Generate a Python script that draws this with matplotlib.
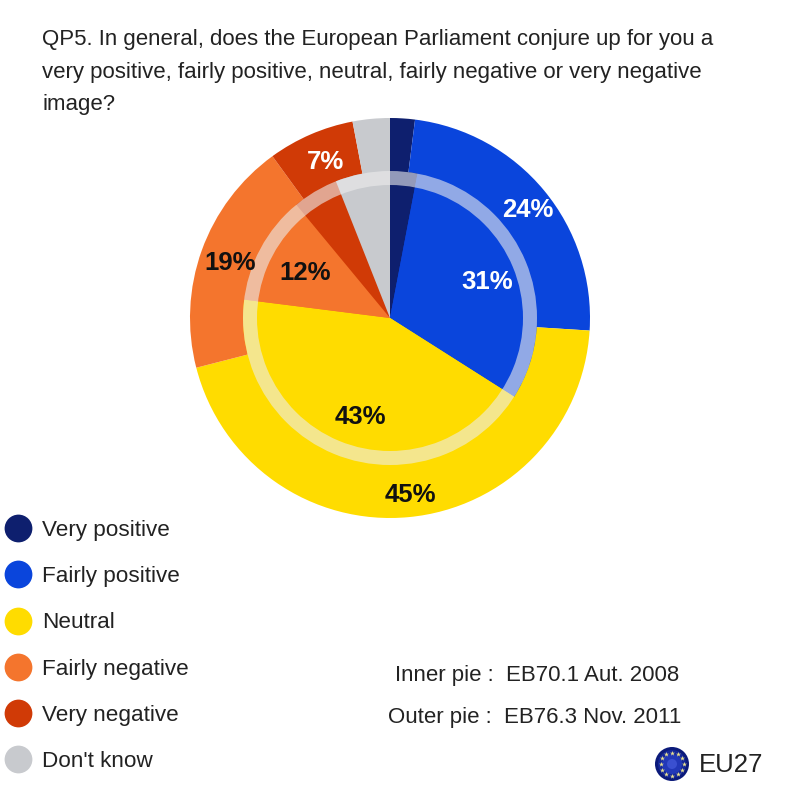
import matplotlib
matplotlib.use('Agg')
import matplotlib.pyplot as plt
from matplotlib.lines import Line2D
import numpy as np

categories = ['Very positive', 'Fairly positive', 'Neutral', 'Fairly negative', 'Very negative', "Don't know"]
outer_values = [2, 24, 45, 19, 7, 3]   # EB76.3 Nov. 2011
inner_values = [3, 31, 43, 12, 5, 6]   # EB70.1 Aut. 2008
colors = ['#0E1F6E', '#0A45DC', '#FFDC00', '#F4752D', '#D03A06', '#C8CACE']

title = ('QP5. In general, does the European Parliament conjure up for you a\n'
         'very positive, fairly positive, neutral, fairly negative or very negative\n'
         'image?')

plt.rcParams['font.family'] = ['Liberation Sans', 'DejaVu Sans']

fig = plt.figure(figsize=(7.98, 7.98), dpi=100)
ax = fig.add_axes([0, 0, 1, 1])

def py(y):
    return 798 - y

center = (390, py(318))

ax.pie(outer_values, colors=colors, radius=200, center=center, startangle=90, counterclock=False)
ax.pie(inner_values, colors=colors, radius=147, center=center, startangle=90, counterclock=False)
# pale ring between the two pies
ax.pie([1], colors=['#EDEDED'], radius=147, center=center, wedgeprops=dict(width=14, alpha=0.6, linewidth=0))

ax.set_xlim(0, 798)
ax.set_ylim(0, 798)
ax.set_aspect('equal')
ax.axis('off')

label_kw = dict(ha='center', va='center', fontsize=18.5, fontweight='bold')
ax.text(528, py(210), f'{outer_values[1]}%', color='white', **label_kw)
ax.text(410, py(495), f'{outer_values[2]}%', color='#111111', **label_kw)
ax.text(230, py(263), f'{outer_values[3]}%', color='#111111', **label_kw)
ax.text(325, py(162), f'{outer_values[4]}%', color='white', **label_kw)
ax.text(487, py(282), f'{inner_values[1]}%', color='white', **label_kw)
ax.text(360, py(417), f'{inner_values[2]}%', color='#111111', **label_kw)
ax.text(305, py(273), f'{inner_values[3]}%', color='#111111', **label_kw)

ax.text(42, py(29), title, ha='left', va='top', fontsize=16, color='#222222', linespacing=1.72)

handles = [Line2D([], [], linestyle='none', marker='o', markersize=20, color=c, markeredgewidth=0) for c in colors]
ax.legend(handles, categories, loc='upper left', bbox_to_anchor=(7 / 798, py(520) / 798), bbox_transform=ax.transAxes,
          frameon=False, fontsize=16.2, labelspacing=1.12, handletextpad=0.55, handlelength=1.0,
          borderpad=0, borderaxespad=0, labelcolor='#222222')

ax.text(537, py(675), 'Inner pie :  EB70.1 Aut. 2008', ha='center', va='center', fontsize=16, color='#222222')
ax.text(535, py(717), 'Outer pie :  EB76.3 Nov. 2011', ha='center', va='center', fontsize=16, color='#222222')
ax.text(699, py(765), 'EU27', ha='left', va='center', fontsize=18.5, color='#222222')

# EU flag badge
flag_x, flag_y = 672, py(764)
for r, c in zip([17, 14, 10, 5], ['#0B1A7A', '#15289A', '#2238B8', '#3A50D0']):
    ax.add_patch(plt.Circle((flag_x, flag_y), r, color=c, lw=0))
star_a = np.arange(12) * np.pi / 6
ax.scatter(flag_x + 11.5 * np.cos(star_a), flag_y + 11.5 * np.sin(star_a), marker='*', s=14, color='#E8E090', linewidths=0, zorder=3)

fig.savefig('out.png', dpi=100)
